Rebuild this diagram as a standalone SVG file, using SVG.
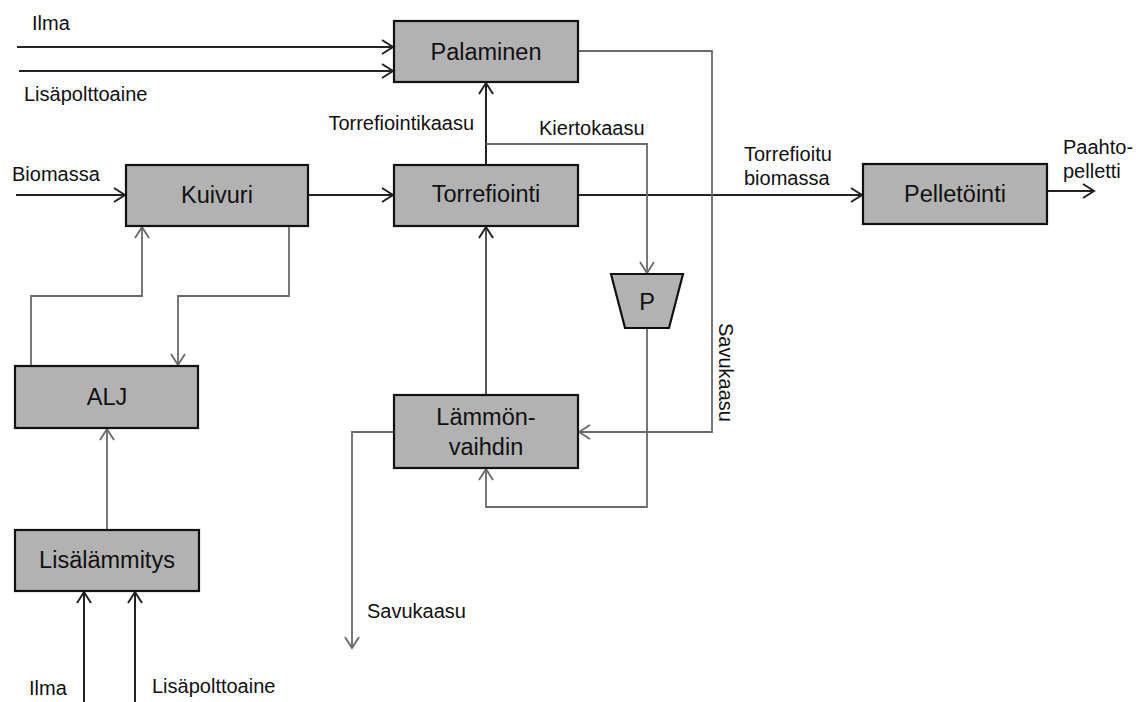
<svg xmlns="http://www.w3.org/2000/svg" width="1142" height="702" viewBox="0 0 1142 702">
<style>
.box{fill:#b2b2b2;stroke:#111;stroke-width:2.2}
.bl{font-family:"Liberation Sans",Arial,sans-serif;font-size:23.5px;fill:#111;text-anchor:middle}
.lb{font-family:"Liberation Sans",Arial,sans-serif;font-size:20px;fill:#111}
.dk{fill:none;stroke:#222;stroke-width:2}
.gr{fill:none;stroke:#6a6a6a;stroke-width:1.8}
</style>
<defs>
<marker id="ad" markerUnits="userSpaceOnUse" markerWidth="14" markerHeight="16" refX="11" refY="7" orient="auto" overflow="visible">
<path d="M0,0 L11,7 L0,14" fill="none" stroke="#222" stroke-width="2"/>
</marker>
<marker id="ag" markerUnits="userSpaceOnUse" markerWidth="14" markerHeight="16" refX="11" refY="7" orient="auto" overflow="visible">
<path d="M0,0 L11,7 L0,14" fill="none" stroke="#6a6a6a" stroke-width="1.8"/>
</marker>
</defs>
<rect width="1142" height="702" fill="#fff"/>
<g id="connectors">
<path class="dk" d="M17,47 H393" marker-end="url(#ad)"/>
<path class="dk" d="M19,71 H393" marker-end="url(#ad)"/>
<path class="dk" d="M16,195 H125" marker-end="url(#ad)"/>
<path class="dk" d="M308,195 H393" marker-end="url(#ad)"/>
<path class="dk" d="M578,195 H862" marker-end="url(#ad)"/>
<path class="dk" d="M1047,191 H1094" marker-end="url(#ad)"/>
<path class="dk" d="M486,165 V83" marker-end="url(#ad)"/>
<path class="gr" d="M486,144 H647 V273" marker-end="url(#ag)"/>
<path class="gr" d="M578,51 H712 V432 H579" marker-end="url(#ag)"/>
<path class="gr" d="M647,328 V507 H486 V469" marker-end="url(#ag)"/>
<path class="dk" d="M486,395 V227" marker-end="url(#ad)" style="stroke:#555"/>
<path class="gr" d="M394,432 H352 V648" marker-end="url(#ag)"/>
<path class="gr" d="M31,366 V296 H142 V227" marker-end="url(#ag)"/>
<path class="gr" d="M289,226 V296 H178 V365" marker-end="url(#ag)"/>
<path class="gr" d="M107,530 V429" marker-end="url(#ag)"/>
<path class="dk" d="M84,702 V592" marker-end="url(#ad)"/>
<path class="dk" d="M135,702 V592" marker-end="url(#ad)"/>
</g>
<g id="palaminen"><rect class="box" x="394" y="21" width="184" height="61"/><text class="bl" x="486" y="60">Palaminen</text></g>
<g id="torrefiointi"><rect class="box" x="394" y="165" width="184" height="61"/><text class="bl" x="486" y="202">Torrefiointi</text></g>
<g id="kuivuri"><rect class="box" x="126" y="165" width="182" height="61"/><text class="bl" x="217" y="203">Kuivuri</text></g>
<g id="alj"><rect class="box" x="15" y="366" width="183" height="62"/><text class="bl" x="107" y="405">ALJ</text></g>
<g id="lisalammitys"><rect class="box" x="15" y="530" width="184" height="61"/><text class="bl" x="107" y="568">Lisälämmitys</text></g>
<g id="lammonvaihdin"><rect class="box" x="394" y="395" width="184" height="73"/><text class="bl" x="486" y="425">Lämmön-</text><text class="bl" x="486" y="455">vaihdin</text></g>
<g id="pelletointi"><rect class="box" x="863" y="164" width="184" height="60"/><text class="bl" x="955" y="202">Pelletöinti</text></g>
<g id="p"><path class="box" d="M611,274 H683 L669,328 H625 Z"/><text class="bl" x="647" y="310">P</text></g>
<g id="labels">
<text class="lb" x="32" y="30">Ilma</text>
<text class="lb" x="24" y="101">Lisäpolttoaine</text>
<text class="lb" x="474" y="130" text-anchor="end">Torrefiointikaasu</text>
<text class="lb" x="539" y="135">Kiertokaasu</text>
<text class="lb" x="12" y="181">Biomassa</text>
<text class="lb" x="744" y="161">Torrefioitu</text>
<text class="lb" x="744" y="185">biomassa</text>
<text class="lb" x="1063" y="154">Paahto-</text>
<text class="lb" x="1063" y="178">pelletti</text>
<text class="lb" transform="translate(719,323) rotate(90)">Savukaasu</text>
<text class="lb" x="367" y="618">Savukaasu</text>
<text class="lb" x="29" y="695">Ilma</text>
<text class="lb" x="152" y="693">Lisäpolttoaine</text>
</g>
</svg>
